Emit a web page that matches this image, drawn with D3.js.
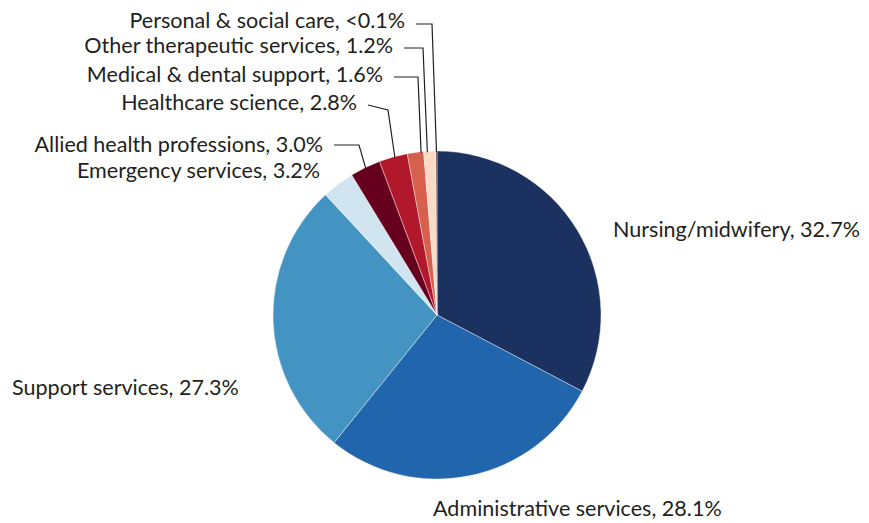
<!DOCTYPE html>
<html><head><meta charset="utf-8">
<script src="https://cdn.jsdelivr.net/npm/d3@7"></script>
<style>html,body{margin:0;padding:0;background:#fff;}svg{display:block;}</style>
</head><body>
<svg id="chart" width="869" height="523"></svg>
<script>
const categories = ["Nursing/midwifery","Administrative services","Support services","Emergency services","Allied health professions","Healthcare science","Medical & dental support","Other therapeutic services","Personal & social care"];
const values = [32.7, 28.1, 27.3, 3.2, 3.0, 2.8, 1.6, 1.2, 0.1];
const valueLabels = ["32.7%","28.1%","27.3%","3.2%","3.0%","2.8%","1.6%","1.2%","<0.1%"];
const colors = ["#1b3160","#2166ac","#4393c3","#d1e5f0","#67001f","#b2182b","#d6604d","#fdd9c6","#3a1a1a"];

// label layout: anchor x, baseline y, text-anchor, optional leader elbow + fraction in slice
const labelLayout = [
  {x:613, y:237, anchor:"start"},
  {x:433, y:516, anchor:"start"},
  {x:12,  y:395, anchor:"start"},
  {x:320, y:178, anchor:"end"},
  {x:323, y:152, anchor:"end", elbow:[359,145], ly:145, frac:0.5},
  {x:357, y:110, anchor:"end", elbow:[388,110], ly:105, frac:0.55},
  {x:383, y:82,  anchor:"end", elbow:[418,77], ly:77, frac:0.84},
  {x:393, y:53,  anchor:"end", elbow:[423,48], ly:48, frac:0.3},
  {x:405, y:28,  anchor:"end", elbow:[432,24], ly:24, frac:0.5}
];

const svg = d3.select("#chart");
const cx = 437, cy = 315, r = 164;
const g = svg.append("g").attr("transform", `translate(${cx},${cy})`);

const data = categories.map((c,i)=>({name:c, value:values[i], label:valueLabels[i], color:colors[i], i}));
const pie = d3.pie().sort(null).value(d=>d.value);
const arcs = pie(data);
const arc = d3.arc().innerRadius(0).outerRadius(r);

g.selectAll("path.slice").data(arcs).enter().append("path")
  .attr("class","slice")
  .attr("d", arc)
  .attr("fill", d=>d.data.color)
  .attr("stroke","#fff").attr("stroke-width",0.4);

const font = "Lato, 'Open Sans', sans-serif";
// calibrate font size to reference label widths (nursing, administrative, support)
let wsum = 0;
[0,1,2].forEach(i=>{
  const probe = svg.append("text").attr("font-family",font).attr("font-size",20).text(categories[i]+", "+valueLabels[i]);
  wsum += probe.node().getComputedTextLength();
  probe.remove();
});
const fs = 20 * 763 / wsum;

const lineColor = "#231f20";
arcs.forEach((a,i)=>{
  const L = labelLayout[i];
  svg.append("text")
    .attr("x", L.x).attr("y", L.y)
    .attr("text-anchor", L.anchor)
    .attr("font-family", font).attr("font-size", fs)
    .attr("fill", "#231f20")
    .text(a.data.name + ", " + a.data.label);
  if (L.elbow) {
    const ang = a.startAngle + (a.endAngle - a.startAngle) * L.frac;
    const px = cx + (r-1) * Math.sin(ang), py = cy - (r-1) * Math.cos(ang);
    const pts = [[L.x + 11, L.ly], L.elbow, [px, py]];
    svg.append("path")
      .attr("d", d3.line()(pts))
      .attr("fill","none").attr("stroke", lineColor).attr("stroke-width",1.2);
  }
});
</script>
</body></html>
